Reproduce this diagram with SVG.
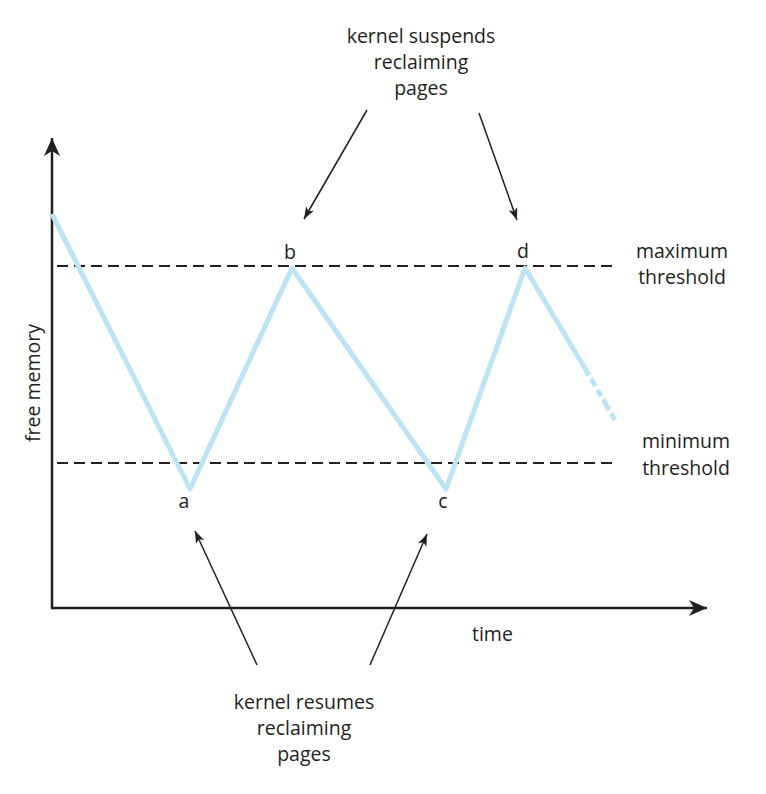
<svg xmlns="http://www.w3.org/2000/svg" width="766" height="794" viewBox="0 0 766 794">
<defs>
<marker id="axisHead" markerUnits="userSpaceOnUse" markerWidth="24" markerHeight="20" viewBox="-20 -10 24 20" refX="0" refY="0" orient="auto">
<path d="M0,0 L-18,-8 L-13,0 L-18,8 Z" fill="#231f20"/>
</marker>
<marker id="arrowHead" markerUnits="userSpaceOnUse" markerWidth="16" markerHeight="12" viewBox="-14 -6 16 12" refX="0" refY="0" orient="auto">
<path d="M0,0 L-12,-4.5 L-9,0 L-12,4.5 Z" fill="#231f20"/>
</marker>
</defs>
<style>
text { font-family: "Open Sans", "Liberation Sans", sans-serif; font-size: 19.5px; fill: #231f20; }
.mid { text-anchor: middle; }
.axis { stroke: #231f20; stroke-width: 2.5; fill: none; }
.thresh { stroke: #231f20; stroke-width: 2; stroke-dasharray: 11 6; fill: none; }
.mem { stroke: #bde3f5; stroke-width: 5; fill: none; stroke-linejoin: round; }
.pointer { stroke: #231f20; stroke-width: 1.5; fill: none; }
</style>
<rect width="766" height="794" fill="#ffffff"/>

<g id="axes">
<line class="axis" x1="52" y1="608" x2="52" y2="138" marker-end="url(#axisHead)"/>
<line class="axis" x1="51" y1="608" x2="707" y2="608" marker-end="url(#axisHead)"/>
<text x="40" y="383" class="mid" transform="rotate(-90 40 383)">free memory</text>
<text x="472" y="641">time</text>
</g>

<g id="thresholds">
<line class="thresh" x1="57" y1="266" x2="614" y2="266"/>
<line class="thresh" x1="57" y1="463" x2="614" y2="463"/>
<text x="682" y="258" class="mid">maximum</text>
<text x="682" y="284" class="mid">threshold</text>
<text x="686" y="448" class="mid">minimum</text>
<text x="686" y="475" class="mid">threshold</text>
</g>

<g id="memory-curve">
<polyline class="mem" points="52,214 190,489 292,268 446,489 525,268 583,365"/>
<line class="mem" x1="583" y1="365" x2="615" y2="420" stroke-dasharray="12 4 9 4 7 4"/>
</g>

<g id="point-labels">
<text x="290" y="259" class="mid">b</text>
<text x="523" y="258" class="mid">d</text>
<text x="184" y="508" class="mid">a</text>
<text x="443" y="508" class="mid">c</text>
</g>

<g id="connectors">
<line class="pointer" x1="367" y1="110" x2="304" y2="219" marker-end="url(#arrowHead)"/>
<line class="pointer" x1="479" y1="113" x2="517" y2="220" marker-end="url(#arrowHead)"/>
<line class="pointer" x1="257" y1="665" x2="195" y2="531" marker-end="url(#arrowHead)"/>
<line class="pointer" x1="370" y1="665" x2="427" y2="534" marker-end="url(#arrowHead)"/>
</g>

<g id="suspend-label">
<text x="421" y="43" class="mid">kernel suspends</text>
<text x="421" y="69" class="mid">reclaiming</text>
<text x="421" y="95" class="mid">pages</text>
</g>

<g id="resume-label">
<text x="304" y="709" class="mid">kernel resumes</text>
<text x="304" y="735" class="mid">reclaiming</text>
<text x="304" y="761" class="mid">pages</text>
</g>
</svg>
